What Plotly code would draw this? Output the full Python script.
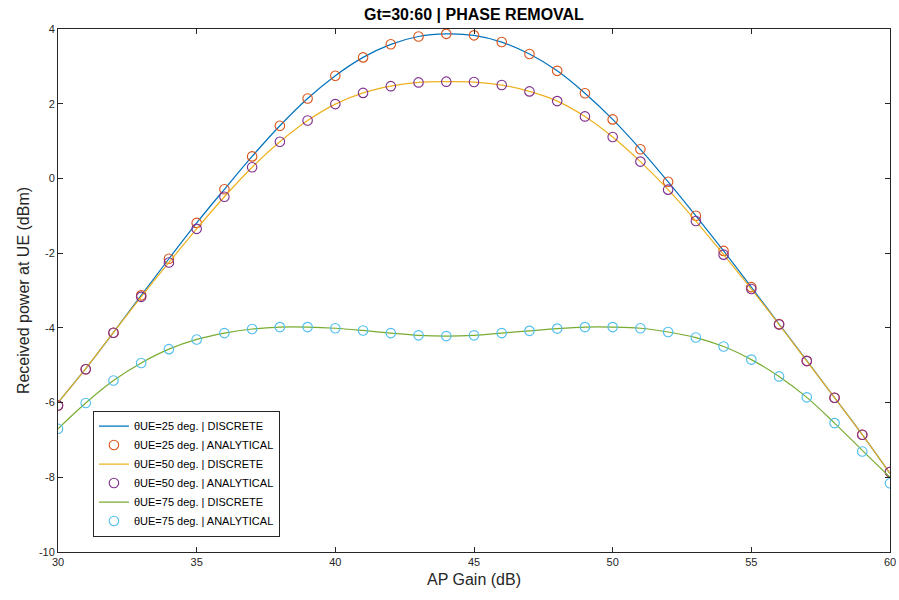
import plotly.graph_objects as go

gain_db = list(range(30, 61))

# theta_UE = 25 deg
ana_25 = [-6.08, -5.11, -4.13, -3.13, -2.15, -1.19, -0.29, 0.59, 1.41, 2.14, 2.75,
          3.24, 3.59, 3.80, 3.87, 3.83, 3.65, 3.33, 2.88, 2.28, 1.58, 0.78, -0.09,
          -1.00, -1.94, -2.91, -3.90, -4.88, -5.87, -6.86, -7.86]
dis_25 = [-6.00, -5.09, -4.12, -3.13, -2.15, -1.19, -0.29, 0.59, 1.41, 2.14, 2.75,
          3.24, 3.59, 3.80, 3.87, 3.83, 3.65, 3.33, 2.88, 2.28, 1.58, 0.78, -0.09,
          -1.00, -1.94, -2.91, -3.90, -4.88, -5.87, -6.86, -7.90]
# theta_UE = 50 deg
ana_50 = [-6.08, -5.11, -4.13, -3.17, -2.25, -1.35, -0.49, 0.30, 0.98, 1.55, 1.99,
          2.29, 2.47, 2.57, 2.59, 2.58, 2.50, 2.33, 2.07, 1.66, 1.11, 0.45, -0.30,
          -1.14, -2.04, -2.96, -3.91, -4.89, -5.87, -6.86, -7.86]
dis_50 = [-6.00, -5.09, -4.12, -3.17, -2.25, -1.35, -0.49, 0.30, 0.98, 1.55, 1.99,
          2.29, 2.47, 2.57, 2.59, 2.58, 2.50, 2.33, 2.07, 1.66, 1.11, 0.45, -0.30,
          -1.14, -2.04, -2.96, -3.91, -4.89, -5.87, -6.86, -7.90]
# theta_UE = 75 deg
ana_75 = [-6.70, -6.01, -5.41, -4.94, -4.57, -4.31, -4.14, -4.03, -3.98, -3.98, -4.01,
          -4.07, -4.14, -4.20, -4.22, -4.20, -4.14, -4.08, -4.02, -3.98, -3.98, -4.01,
          -4.11, -4.26, -4.50, -4.85, -5.30, -5.86, -6.55, -7.31, -8.16]
dis_75 = [-6.70, -6.01, -5.41, -4.94, -4.57, -4.31, -4.14, -4.03, -3.98, -3.98, -4.01,
          -4.07, -4.14, -4.20, -4.22, -4.20, -4.14, -4.08, -4.02, -3.98, -3.98, -4.01,
          -4.11, -4.26, -4.50, -4.85, -5.30, -5.86, -6.55, -7.28, -8.00]

x_ticks = [30, 35, 40, 45, 50, 55, 60]
y_ticks = [-10, -8, -6, -4, -2, 0, 2, 4]
y_tick_labels = ["-10", "-8", "-6", "-4", "-2", "0", "2", "4"]

series = [
    ("θUE=25 deg. | DISCRETE", dis_25, "lines", "#0072BD"),
    ("θUE=25 deg. | ANALYTICAL", ana_25, "markers", "#D95319"),
    ("θUE=50 deg. | DISCRETE", dis_50, "lines", "#EDB120"),
    ("θUE=50 deg. | ANALYTICAL", ana_50, "markers", "#7E2F8E"),
    ("θUE=75 deg. | DISCRETE", dis_75, "lines", "#77AC30"),
    ("θUE=75 deg. | ANALYTICAL", ana_75, "markers", "#4DBEEE"),
]

fig = go.Figure()
for name, vals, mode, col in series:
    if mode == "lines":
        fig.add_trace(go.Scatter(x=gain_db, y=vals, mode="lines", name=name,
                                 line=dict(color=col, width=1.2, shape="spline")))
    else:
        fig.add_trace(go.Scatter(x=gain_db, y=vals, mode="markers", name=name,
                                 marker=dict(symbol="circle-open", size=9.5, color=col,
                                             line=dict(width=1.1, color=col))))

FONT = "Liberation Sans, Arial"
axis_common = dict(showgrid=False, zeroline=False, showline=True, linecolor="#262626",
                   linewidth=1, mirror="ticks", ticks="inside", ticklen=5, automargin=False,
                   tickcolor="#262626", tickfont=dict(family=FONT, size=11, color="#262626"))

fig.update_layout(
    width=899, height=600,
    paper_bgcolor="white", plot_bgcolor="white",
    margin=dict(l=57.5, r=9, t=28.5, b=48.3, autoexpand=False),
    title=dict(text="<b>Gt=30:60 | PHASE REMOVAL</b>", x=0.5, xref="paper", xanchor="center",
               y=1 - 14 / 600, yref="container", yanchor="middle",
               font=dict(family=FONT, size=16, color="black")),
    xaxis=dict(range=[30, 60], tickvals=x_ticks, title=dict(text="AP Gain (dB)", standoff=6,
               font=dict(family=FONT, size=16, color="#262626")), **axis_common),
    yaxis=dict(range=[-10, 4], tickvals=y_ticks, ticktext=y_tick_labels,
               title=dict(text="Received power at UE (dBm)", standoff=5,
               font=dict(family=FONT, size=16, color="#262626")), **axis_common),
    legend=dict(x=0.042, y=0.150, xanchor="left", yanchor="middle", bgcolor="white",
                bordercolor="#262626", borderwidth=1, tracegroupgap=0,
                font=dict(family=FONT, size=11, color="black")),
    showlegend=True,
)

fig.write_html("out.html", config={"displayModeBar": False},
               post_script="document.body.style.margin='0';")
